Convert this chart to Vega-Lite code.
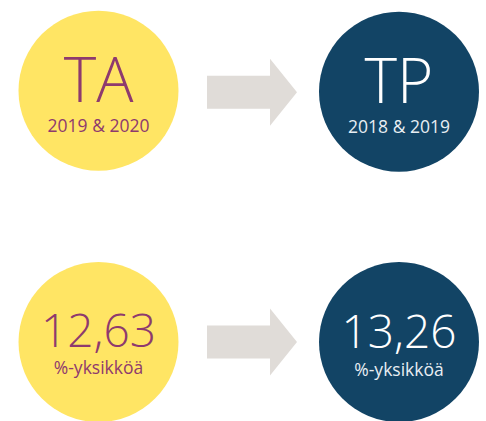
{
  "$schema": "https://vega.github.io/schema/vega-lite/v6.json",
  "width": 486,
  "height": 421,
  "autosize": {"type": "fit", "contains": "padding"},
  "padding": 0,
  "background": "white",
  "config": {"view": {"stroke": null}},
  "resolve": {"scale": {"color": "independent"}},
  "encoding": {
    "x": {"field": "x", "type": "quantitative", "scale": {"domain": [0, 486], "nice": false, "zero": false}, "axis": null},
    "y": {"field": "y", "type": "quantitative", "scale": {"domain": [0, 421], "nice": false, "zero": false, "reverse": true}, "axis": null}
  },
  "layer": [
    {
      "data": {"values": [
        {"period": "TA", "x": 98.5, "y": 92},
        {"period": "TP", "x": 399, "y": 93},
        {"period": "TA", "x": 98.5, "y": 347},
        {"period": "TP", "x": 399, "y": 347}
      ]},
      "mark": {"type": "point", "shape": "circle", "filled": true, "opacity": 1, "size": 25600},
      "encoding": {
        "color": {"field": "period", "type": "nominal", "scale": {"domain": ["TA", "TP"], "range": ["#FFE564", "#124465"]}, "legend": null}
      }
    },
    {
      "data": {"values": [
        {"x": 252, "y": 93.5},
        {"x": 252, "y": 347}
      ]},
      "mark": {"type": "point", "filled": true, "opacity": 1, "color": "#E0DCD8", "size": 8100,
        "shape": "M-1,-0.367L0.4,-0.367L0.4,-0.744L1,0L0.4,0.744L0.4,0.367L-1,0.367Z"}
    },
    {
      "data": {"values": [
        {"period": "TA", "label": "TA", "x": 98.5, "y": 103},
        {"period": "TP", "label": "TP", "x": 399, "y": 104}
      ]},
      "mark": {"type": "text", "font": "Open Sans", "fontWeight": 300, "fontSize": 62, "align": "center", "baseline": "alphabetic"},
      "encoding": {
        "text": {"field": "label"},
        "color": {"field": "period", "type": "nominal", "scale": {"domain": ["TA", "TP"], "range": ["#8E3A6E", "#FFFFFF"]}, "legend": null}
      }
    },
    {
      "data": {"values": [
        {"period": "TA", "label": "12,63", "x": 98.5, "y": 352},
        {"period": "TP", "label": "13,26", "x": 399, "y": 353}
      ]},
      "mark": {"type": "text", "font": "Open Sans", "fontWeight": 300, "fontSize": 46, "align": "center", "baseline": "alphabetic"},
      "encoding": {
        "text": {"field": "label"},
        "color": {"field": "period", "type": "nominal", "scale": {"domain": ["TA", "TP"], "range": ["#8E3A6E", "#FFFFFF"]}, "legend": null}
      }
    },
    {
      "data": {"values": [
        {"period": "TA", "label": "2019 & 2020", "x": 98.5, "y": 134},
        {"period": "TP", "label": "2018 & 2019", "x": 399, "y": 135},
        {"period": "TA", "label": "%-yksikköä", "x": 98.5, "y": 379},
        {"period": "TP", "label": "%-yksikköä", "x": 399, "y": 381}
      ]},
      "mark": {"type": "text", "font": "Open Sans", "fontSize": 17.5, "align": "center", "baseline": "alphabetic"},
      "encoding": {
        "text": {"field": "label"},
        "color": {"field": "period", "type": "nominal", "scale": {"domain": ["TA", "TP"], "range": ["#8E3A6E", "#E8EEF3"]}, "legend": null}
      }
    }
  ]
}
